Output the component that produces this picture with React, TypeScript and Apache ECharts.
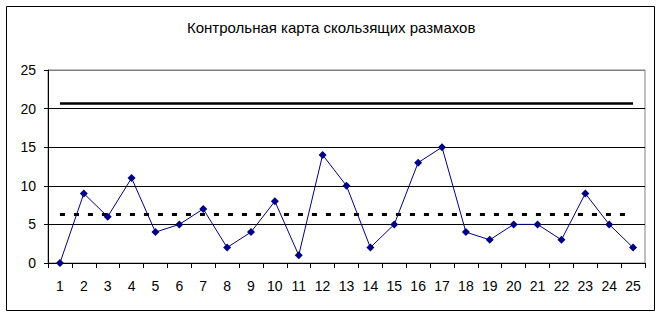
import React, { useEffect, useRef } from "react";
import * as echarts from "echarts";

const TITLE = "Контрольная карта скользящих размахов";
const categories = Array.from({ length: 25 }, (_, i) => String(i + 1));
const movingRanges = [0, 9, 6, 11, 4, 5, 7, 2, 4, 8, 1, 14, 10, 2, 5, 13, 15, 4, 3, 5, 5, 3, 9, 5, 2];
const UCL = 20.69;
const CL = 6.33;
const Y_MIN = 0;
const Y_MAX = 25;
const Y_STEP = 5;

const FONT = "'Liberation Sans', Arial, sans-serif";

export default function App() {
  const ref = useRef<HTMLDivElement>(null);
  useEffect(() => {
    if (!ref.current) return;
    const chart = echarts.init(ref.current, null, { renderer: "svg" });
    chart.setOption({
      animation: false,
      backgroundColor: "#ffffff",
      title: {
        text: TITLE,
        left: 182,
        top: 15,
        textStyle: { fontSize: 15, fontWeight: "normal", color: "#000", fontFamily: FONT },
      },
      graphic: [
        {
          type: "rect",
          shape: { x: 6.5, y: 6.5, width: 648, height: 304 },
          style: { fill: "none", stroke: "#000", lineWidth: 1 },
          silent: true,
        },
      ],
      grid: {
        left: 48,
        right: 18,
        top: 70,
        bottom: 54,
        show: true,
        borderColor: "#808080",
        borderWidth: 1,
        backgroundColor: "transparent",
      },
      xAxis: {
        type: "category",
        data: categories,
        boundaryGap: true,
        axisLine: { show: true, lineStyle: { color: "#000", width: 1 } },
        axisTick: { show: true, length: 5, lineStyle: { color: "#000" }, alignWithLabel: false },
        axisLabel: { color: "#000", fontSize: 14, fontFamily: FONT, margin: 16, interval: 0 },
        splitLine: { show: false },
      },
      yAxis: {
        type: "value",
        min: Y_MIN,
        max: Y_MAX,
        interval: Y_STEP,
        axisLine: { show: true, lineStyle: { color: "#000", width: 1 } },
        axisTick: { show: true, length: 4, lineStyle: { color: "#000" } },
        axisLabel: { color: "#000", fontSize: 14, fontFamily: FONT, margin: 12 },
        splitLine: {
          show: true,
          lineStyle: { color: ["#000", "#000", "#000", "#000", "#000", "#808080"], width: 1 },
        },
      },
      series: [
        {
          type: "line",
          data: movingRanges,
          symbol: "diamond",
          symbolSize: 8,
          itemStyle: { color: "#000080" },
          lineStyle: { color: "#000080", width: 1 },
          z: 5,
          markLine: {
            silent: true,
            symbol: "none",
            label: { show: false },
            data: [
              [
                { coord: [categories[0], UCL], lineStyle: { color: "#000", width: 2.5, type: "solid" } },
                { coord: [categories[categories.length - 1], UCL] },
              ],
              [
                { coord: [categories[0], CL], lineStyle: { color: "#000", width: 3, type: [5, 9] } },
                { coord: [categories[categories.length - 1], CL] },
              ],
            ],
          },
        },
      ],
    });
    return () => chart.dispose();
  }, []);
  return (
    <div
      ref={ref}
      style={{ position: "fixed", left: 0, top: 0, width: 663, height: 317, background: "#fff" }}
    />
  );
}
